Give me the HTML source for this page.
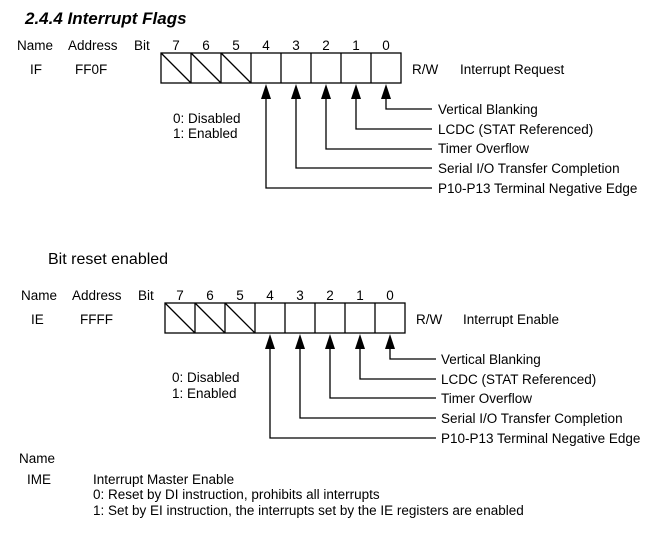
<!DOCTYPE html>
<html><head><style>
body{margin:0;background:#fff;}
svg text{font-family:"Liberation Sans",sans-serif;font-size:13.5px;fill:#000;}
</style></head><body>
<svg width="662" height="537" xmlns="http://www.w3.org/2000/svg">
<text x="25" y="24" style="font-size:17px;font-weight:bold;font-style:italic">2.4.4  Interrupt Flags</text>
<g>
<text x="17" y="50">Name</text><text x="68" y="50">Address</text><text x="134" y="50">Bit</text>
<text x="30" y="74">IF</text><text x="75" y="74">FF0F</text>
<text x="176" y="50" text-anchor="middle">7</text><text x="206" y="50" text-anchor="middle">6</text><text x="236" y="50" text-anchor="middle">5</text><text x="266" y="50" text-anchor="middle">4</text><text x="296" y="50" text-anchor="middle">3</text><text x="326" y="50" text-anchor="middle">2</text><text x="356" y="50" text-anchor="middle">1</text><text x="386" y="50" text-anchor="middle">0</text>
<g stroke="#000" stroke-width="1.3" fill="none">
<rect x="161" y="53" width="240" height="30"/>
<path d="M191,53V83M221,53V83M251,53V83M281,53V83M311,53V83M341,53V83M371,53V83"/>
<path d="M161,53L191,83M191,53L221,83M221,53L251,83"/>
<path d="M386,99V109H432M356,99V129H432M326,99V149H432M296,99V168H432M266,99V188H432"/>
</g>
<g fill="#000"><path d="M381,99L386,84L391,99Z"/><path d="M351,99L356,84L361,99Z"/><path d="M321,99L326,84L331,99Z"/><path d="M291,99L296,84L301,99Z"/><path d="M261,99L266,84L271,99Z"/></g>
<text x="173" y="123">0: Disabled</text><text x="173" y="138">1: Enabled</text>
<text x="412" y="74">R/W</text><text x="460" y="74">Interrupt Request</text>
<text x="438" y="114">Vertical Blanking</text>
<text x="438" y="134">LCDC (STAT Referenced)</text>
<text x="438" y="153">Timer Overflow</text>
<text x="438" y="173">Serial I/O Transfer Completion</text>
<text x="438" y="193">P10-P13 Terminal Negative Edge</text>
</g>
<text x="48" y="264" style="font-size:16px">Bit reset enabled</text>
<g>
<text x="21" y="300">Name</text><text x="72" y="300">Address</text><text x="138" y="300">Bit</text>
<text x="31" y="324">IE</text><text x="80" y="324">FFFF</text>
<text x="180" y="300" text-anchor="middle">7</text><text x="210" y="300" text-anchor="middle">6</text><text x="240" y="300" text-anchor="middle">5</text><text x="270" y="300" text-anchor="middle">4</text><text x="300" y="300" text-anchor="middle">3</text><text x="330" y="300" text-anchor="middle">2</text><text x="360" y="300" text-anchor="middle">1</text><text x="390" y="300" text-anchor="middle">0</text>
<g stroke="#000" stroke-width="1.3" fill="none">
<rect x="165" y="303" width="240" height="30"/>
<path d="M195,303V333M225,303V333M255,303V333M285,303V333M315,303V333M345,303V333M375,303V333"/>
<path d="M165,303L195,333M195,303L225,333M225,303L255,333"/>
<path d="M390,349V359H436M360,349V379H436M330,349V398H436M300,349V418H436M270,349V438H436"/>
</g>
<g fill="#000"><path d="M385,349L390,334L395,349Z"/><path d="M355,349L360,334L365,349Z"/><path d="M325,349L330,334L335,349Z"/><path d="M295,349L300,334L305,349Z"/><path d="M265,349L270,334L275,349Z"/></g>
<text x="172" y="382">0: Disabled</text><text x="172" y="398">1: Enabled</text>
<text x="416" y="324">R/W</text><text x="463" y="324">Interrupt Enable</text>
<text x="441" y="364">Vertical Blanking</text>
<text x="441" y="384">LCDC (STAT Referenced)</text>
<text x="441" y="403">Timer Overflow</text>
<text x="441" y="423">Serial I/O Transfer Completion</text>
<text x="441" y="443">P10-P13 Terminal Negative Edge</text>
</g>
<text x="19" y="463">Name</text>
<text x="27" y="484">IME</text>
<text x="93" y="484">Interrupt Master Enable</text>
<text x="93" y="499">0: Reset by DI instruction, prohibits all interrupts</text>
<text x="93" y="515">1: Set by EI instruction, the interrupts set by the IE registers are enabled</text>
</svg>
</body></html>
